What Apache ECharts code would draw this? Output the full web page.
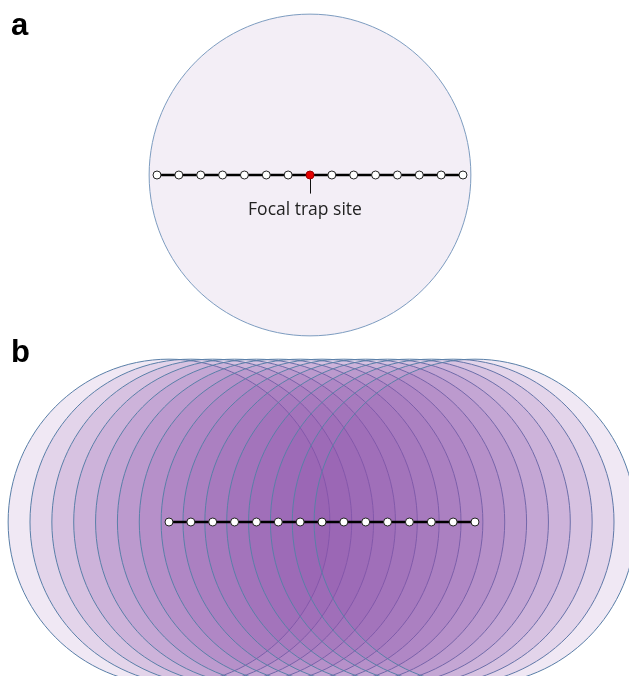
<!DOCTYPE html>
<html>
<head>
<meta charset="utf-8">
<script src="https://cdn.jsdelivr.net/npm/echarts@6/dist/echarts.min.js"></script>
<style>
html,body{margin:0;padding:0;background:#fff;}
#chart{width:629px;height:676px;}
</style>
</head>
<body>
<div id="chart"></div>
<script>
// ---- data ----
const trapIndex = [-7, -6, -5, -4, -3, -2, -1, 0, 1, 2, 3, 4, 5, 6, 7];
const trapOffset = [0, 0, 0, 0, 0, 0, 0, 0, 0, 0, 0, 0, 0, 0, 0];
const focalTrap = 0;
const focalLabel = 'Focal trap site';
const panelLabels = ['a', 'b'];
const detectRadiusX = 7.36;   // in trap-spacing units
const detectRadiusY = 7.45;

// ---- layout ----
const unit = 21.857; // px per trap spacing
const spanX = 16 * unit;
const spanY = 14 * unit;
const grids = [
  { left: 310 - spanX / 2, top: 175 - spanY / 2, width: spanX, height: spanY },
  { left: 322 - spanX / 2, top: 522 - spanY / 2, width: spanX, height: spanY }
];

const chart = echarts.init(document.getElementById('chart'), null, { renderer: 'canvas' });

function axisX(i) {
  return { type: 'value', gridIndex: i, min: -8, max: 8, show: false };
}
function axisY(i) {
  return { type: 'value', gridIndex: i, min: -7, max: 7, show: false };
}

const pointData = trapIndex.map((x, k) => [x, trapOffset[k]]);

function ellipseSeries(gridIdx, centers, fill, stroke) {
  return {
    type: 'custom',
    xAxisIndex: gridIdx,
    yAxisIndex: gridIdx,
    clip: false,
    silent: true,
    z: 1,
    data: centers.map(c => [c, 0]),
    renderItem: function (params, api) {
      const p = api.coord([api.value(0), api.value(1)]);
      const sz = api.size([detectRadiusX, gridIdx === 0 ? detectRadiusX : detectRadiusY]);
      return {
        type: 'ellipse',
        shape: { cx: p[0], cy: p[1], rx: sz[0], ry: sz[1] },
        style: { fill: fill, stroke: stroke, lineWidth: 1 }
      };
    }
  };
}

function trapLine(gridIdx, withFocal) {
  return {
    type: 'line',
    xAxisIndex: gridIdx,
    yAxisIndex: gridIdx,
    z: 5,
    silent: true,
    animation: false,
    symbol: 'circle',
    symbolSize: 8,
    lineStyle: { color: '#000', width: 2.5 },
    itemStyle: { color: '#fff', borderColor: '#222', borderWidth: 1 },
    data: pointData.map(d => {
      if (withFocal && d[0] === focalTrap) {
        return { value: d, itemStyle: { color: '#e60000', borderColor: '#a00000', borderWidth: 1 } };
      }
      return { value: d };
    }),
    markLine: withFocal ? {
      silent: true,
      symbol: ['none', 'none'],
      animation: false,
      lineStyle: { color: '#111', width: 1, type: 'solid' },
      label: {
        show: true,
        position: 'end',
        distance: 7,
        offset: [-5, 0],
        formatter: focalLabel,
        color: '#222',
        fontFamily: 'Open Sans',
        fontSize: 17.5
      },
      data: [[{ coord: [focalTrap, 0] }, { coord: [focalTrap, -0.85] }]]
    } : undefined
  };
}

const option = {
  animation: false,
  backgroundColor: '#ffffff',
  grid: grids,
  xAxis: [axisX(0), axisX(1)],
  yAxis: [axisY(0), axisY(1)],
  graphic: [
    { type: 'text', left: 11, top: 11, style: { text: panelLabels[0], font: 'bold 31px "Liberation Sans", Arial', fill: '#000' } },
    { type: 'text', left: 11, top: 338, style: { text: panelLabels[1], font: 'bold 31px "Liberation Sans", Arial', fill: '#000' } }
  ],
  series: [
    ellipseSeries(0, [focalTrap], '#f3eef6', '#7d9cc0'),
    ellipseSeries(1, trapIndex, 'rgba(142,79,176,0.135)', '#5a7fa8'),
    trapLine(0, true),
    trapLine(1, false)
  ]
};
chart.setOption(option);
</script>
</body>
</html>
